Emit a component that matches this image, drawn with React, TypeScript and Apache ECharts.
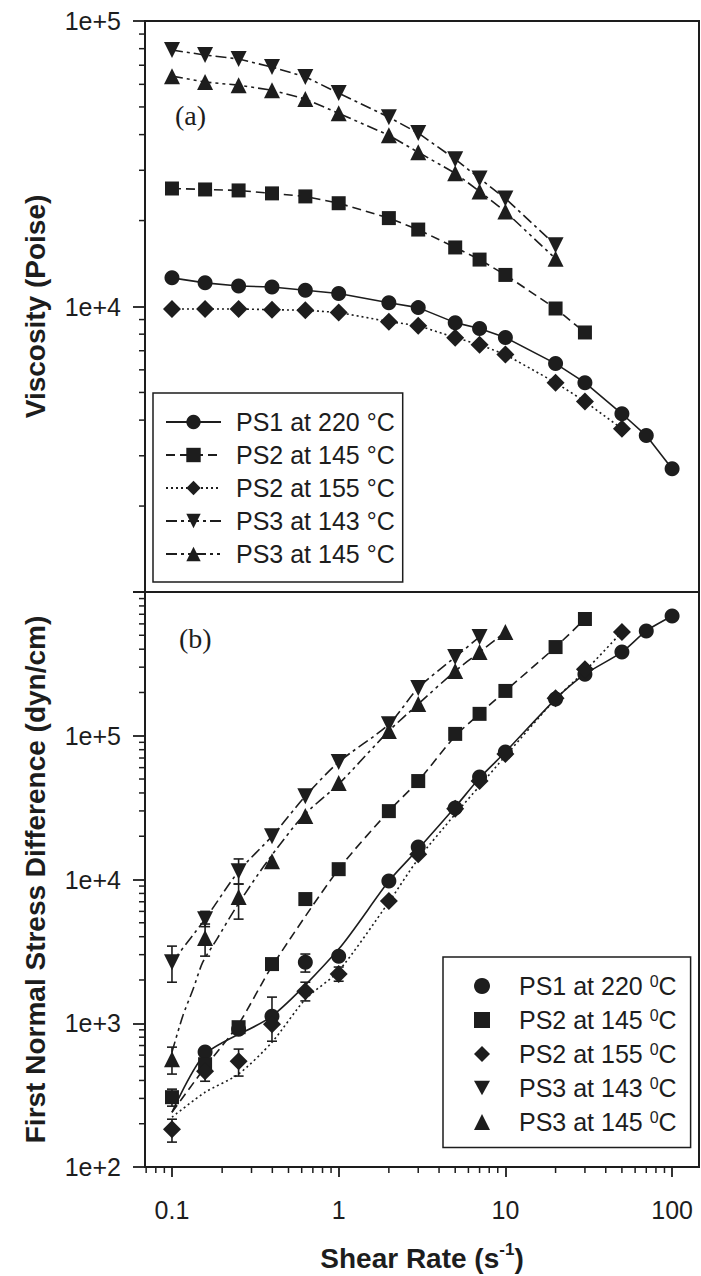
import React, { useEffect, useRef } from "react";
import * as echarts from "echarts";

// ---------------- data ----------------
const shearRates = [0.1, 0.158, 0.251, 0.398, 0.631, 1, 2, 3, 5, 7, 10, 20, 30, 50, 70, 100];

// (a) viscosity, Poise (series use the first n shear rates)
const viscPS1_220 = [12600, 12100, 11800, 11700, 11400, 11100, 10300, 9910, 8780, 8370, 7790, 6310, 5410, 4210, 3530, 2700];
const viscPS2_145 = [25900, 25700, 25500, 24900, 24300, 23000, 20400, 18600, 16100, 14600, 12900, 9840, 8110];
const viscPS2_155 = [9800, 9800, 9800, 9750, 9700, 9530, 8850, 8570, 7780, 7350, 6790, 5410, 4650, 3730];
const viscPS3_143 = [79100, 76000, 73600, 69000, 63700, 55900, 46000, 40500, 32800, 28100, 23900, 16400];
const viscPS3_145 = [64100, 61100, 59600, 57200, 53300, 47500, 39800, 34700, 29300, 25300, 21500, 14700];

// (b) first normal stress difference, dyn/cm
const n1PS1_220_x = [0.158, 0.251, 0.398, 0.631, 1, 2, 3, 5, 7, 10, 20, 30, 50, 70, 100];
const n1PS1_220 = [630, 910, 1120, 2660, 2930, 9750, 16800, 31400, 51600, 77100, 180000, 268000, 382000, 536000, 681000];
const n1PS2_145 = [306, 519, 939, 2580, 7310, 11800, 29900, 48400, 103000, 142000, 205000, 414000, 649000];
const n1PS2_155 = [183, 464, 545, 986, 1670, 2200, 7080, 15000, 31000, 48400, 74600, 182000, 290000, 527000];
const n1PS3_143 = [2660, 5300, 11400, 20000, 38000, 65600, 120000, 215000, 353000, 487000];
const n1PS3_145 = [562, 3910, 7550, 13400, 27600, 46900, 108000, 166000, 282000, 382000, 527000];

// error bars: [shear rate, low, high]
const errBars = [
  [0.1, 1930, 3440], [0.158, 4700, 6000], [0.251, 9300, 13900],
  [0.1, 443, 682], [0.158, 2930, 4900], [0.251, 5300, 9300],
  [0.1, 265, 348],
  [0.1, 149, 215], [0.158, 395, 562], [0.251, 429, 661], [0.398, 750, 1520], [0.631, 1430, 1930], [1, 1960, 2460],
  [0.631, 2270, 3030],
];

// fitted curves in (b)
const fitPS1_x = [0.1, 0.158, 0.398, 1, 2, 3, 5, 7, 10, 20, 30, 50, 70, 100];
const fitPS1_y = [240, 610, 1120, 3280, 9750, 16300, 31900, 50800, 77100, 180000, 268000, 382000, 536000, 681000];
const fitPS2a_x = [0.1, 0.158, 0.251, 0.398, 1, 2, 3, 5, 7, 10, 20, 30];
const fitPS2a_y = [240, 494, 986, 2490, 11800, 29900, 48400, 99500, 142000, 205000, 414000, 649000];
const fitPS2b_x = [0.1, 0.158, 0.251, 0.398, 0.631, 1, 2, 3, 5, 7, 10, 20, 30, 50];
const fitPS2b_y = [222, 331, 443, 738, 1470, 2310, 6970, 13900, 28500, 44700, 72300, 180000, 282000, 527000];
const fitPS3b_x = [0.1, 0.116, 0.134, 0.153, 0.186, 0.245, 0.37, 0.61, 1, 2, 3, 5, 7, 10];
const fitPS3b_y = [630, 1120, 1730, 2660, 3850, 6530, 13200, 27600, 46100, 108000, 166000, 282000, 382000, 527000];

// minor tick values
const minorX = [0.07, 0.08, 0.09, 0.2, 0.3, 0.4, 0.5, 0.6, 0.7, 0.8, 0.9, 2, 3, 4, 5, 6, 7, 8, 9, 20, 30, 40, 50, 60, 70, 80, 90];
const minorYTop = [2000, 3000, 4000, 5000, 6000, 7000, 8000, 9000, 20000, 30000, 40000, 50000, 60000, 70000, 80000, 90000];
const minorYBot = [200, 300, 400, 500, 600, 700, 800, 900, 2000, 3000, 4000, 5000, 6000, 7000, 8000, 9000,
  20000, 30000, 40000, 50000, 60000, 70000, 80000, 90000, 200000, 300000, 400000, 500000, 600000, 700000, 800000, 900000];

const topNames = ["PS1 at 220 °C", "PS2 at 145 °C", "PS2 at 155 °C", "PS3 at 143 °C", "PS3 at 145 °C"];
const botNames = ["PS1 at 220 ⁰C", "PS2 at 145 ⁰C", "PS2 at 155 ⁰C", "PS3 at 143 ⁰C", "PS3 at 145 ⁰C"];

// ---------------- styles ----------------
const FONT = '"Liberation Sans", Arial, sans-serif';
const INK = "#1d1d1d";
const X_MIN = 0.0689;
const X_MAX = 145;
const DOWN_TRI = "path://M0,0L10,0L5,9Z";

const symbols = [
  { symbol: "circle", size: 15 },
  { symbol: "rect", size: 14 },
  { symbol: "diamond", size: 18 },
  { symbol: DOWN_TRI, size: 16 },
  { symbol: "triangle", size: 16 },
];
const dashes: any[] = ["solid", [9, 5], [2, 3], [11, 4, 3, 4], [11, 4, 3, 4, 3, 4]];

const pairs = (xs: number[], ys: number[]) => ys.map((y, i) => [xs[i], y]);

const sciLabel = (lo: number, hi: number) => (v: number) =>
  v <= lo * 1.01 || v >= hi * 0.99 ? "" : `1e+${Math.round(Math.log10(v))}`;

function minorTickSeries(values: number[], axis: "x" | "y", gridIdx: number, yMin: number) {
  return {
    type: "custom",
    xAxisIndex: gridIdx,
    yAxisIndex: gridIdx,
    silent: true,
    clip: false,
    z: 5,
    data: values.map((v) => (axis === "x" ? [v, yMin] : [X_MIN, v])),
    encode: { x: 0, y: 1 },
    renderItem: (params: any, api: any) => {
      const p = api.coord([api.value(0), api.value(1)]);
      const shape =
        axis === "x"
          ? { x1: p[0], y1: p[1], x2: p[0], y2: p[1] + 6 }
          : { x1: p[0] - 6, y1: p[1], x2: p[0], y2: p[1] };
      return { type: "line", shape, style: { stroke: INK, lineWidth: 1.5 } };
    },
  };
}

export default function App() {
  const ref = useRef<HTMLDivElement>(null);

  useEffect(() => {
    if (!ref.current) return;
    const chart = echarts.init(ref.current, null, { renderer: "svg" });

    const topData = [viscPS1_220, viscPS2_145, viscPS2_155, viscPS3_143, viscPS3_145];
    const topSeries = topData.map((ys, i) => ({
      name: topNames[i],
      type: "line",
      xAxisIndex: 0,
      yAxisIndex: 0,
      data: pairs(shearRates, ys),
      symbol: symbols[i].symbol,
      symbolSize: symbols[i].size,
      itemStyle: { color: INK },
      lineStyle: { color: INK, width: 1.6, type: dashes[i] },
      z: 3,
    }));

    const botData = [
      pairs(n1PS1_220_x, n1PS1_220),
      pairs(shearRates, n1PS2_145),
      pairs(shearRates, n1PS2_155),
      pairs(shearRates, n1PS3_143),
      pairs(shearRates, n1PS3_145),
    ];
    const botScatter = botData.map((d, i) => ({
      name: botNames[i],
      type: "scatter",
      xAxisIndex: 1,
      yAxisIndex: 1,
      data: d,
      symbol: symbols[i].symbol,
      symbolSize: symbols[i].size,
      itemStyle: { color: INK, opacity: 1 },
      z: 4,
    }));

    const fits = [
      pairs(fitPS1_x, fitPS1_y),
      pairs(fitPS2a_x, fitPS2a_y),
      pairs(fitPS2b_x, fitPS2b_y),
      pairs(shearRates, n1PS3_143),
      pairs(fitPS3b_x, fitPS3b_y),
    ];
    const fitSeries = fits.map((d, i) => ({
      name: "fit" + i,
      type: "line",
      xAxisIndex: 1,
      yAxisIndex: 1,
      data: d,
      symbol: "none",
      smooth: 0.25,
      lineStyle: { color: INK, width: 1.6, type: dashes[i] },
      z: 2,
    }));

    const errSeries = {
      type: "custom",
      xAxisIndex: 1,
      yAxisIndex: 1,
      silent: true,
      z: 3,
      data: errBars,
      encode: { x: 0, y: [1, 2] },
      renderItem: (params: any, api: any) => {
        const x = api.value(0);
        const a = api.coord([x, api.value(1)]);
        const b = api.coord([x, api.value(2)]);
        const w = 5;
        const st = { stroke: INK, lineWidth: 1.6 };
        return {
          type: "group",
          children: [
            { type: "line", shape: { x1: a[0], y1: a[1], x2: b[0], y2: b[1] }, style: st },
            { type: "line", shape: { x1: a[0] - w, y1: a[1], x2: a[0] + w, y2: a[1] }, style: st },
            { type: "line", shape: { x1: b[0] - w, y1: b[1], x2: b[0] + w, y2: b[1] }, style: st },
          ],
        };
      },
    };

    const axisLine = { show: true, lineStyle: { color: INK, width: 2 } };
    const tickLabel = { fontFamily: FONT, fontSize: 25, color: INK };
    const nameStyle = { fontFamily: FONT, fontSize: 28, fontWeight: "bold", color: INK };

    chart.setOption({
      animation: false,
      backgroundColor: "#fff",
      grid: [
        { left: 145, right: 2, top: 21, height: 571, show: true, borderColor: INK, borderWidth: 2 },
        { left: 145, right: 2, top: 592, height: 576, show: true, borderColor: INK, borderWidth: 2 },
      ],
      xAxis: [
        {
          type: "log", gridIndex: 0, min: X_MIN, max: X_MAX,
          axisLine, axisTick: { show: false }, axisLabel: { show: false }, splitLine: { show: false },
        },
        {
          type: "log", gridIndex: 1, min: X_MIN, max: X_MAX,
          axisLine,
          axisTick: { show: true, inside: false, length: 10, lineStyle: { color: INK, width: 1.8 } },
          axisLabel: {
            ...tickLabel, margin: 30, showMinLabel: false, showMaxLabel: false,
            formatter: (v: number) => (v < 0.09 || v > 120 ? "" : String(Math.round(v * 1000) / 1000)),
          },
          splitLine: { show: false },
          name: "Shear Rate (s{sup|-1})",
          nameLocation: "middle",
          nameGap: 74,
          nameTextStyle: {
            ...nameStyle, lineHeight: 34,
            rich: { sup: { fontFamily: FONT, fontSize: 17, fontWeight: "bold", color: INK, verticalAlign: "top", lineHeight: 18 } },
          },
        },
      ],
      yAxis: [
        {
          type: "log", gridIndex: 0, min: 1000, max: 100000,
          axisLine,
          axisTick: { show: true, inside: false, length: 12, lineStyle: { color: INK, width: 1.8 } },
          axisLabel: { ...tickLabel, margin: 24, formatter: sciLabel(1000, 1e9) },
          splitLine: { show: false },
          name: "Viscosity (Poise)",
          nameLocation: "middle",
          nameGap: 96,
          nameTextStyle: nameStyle,
        },
        {
          type: "log", gridIndex: 1, min: 100, max: 1000000,
          axisLine,
          axisTick: { show: true, inside: false, length: 12, lineStyle: { color: INK, width: 1.8 } },
          axisLabel: { ...tickLabel, margin: 24, formatter: sciLabel(1, 1000000) },
          splitLine: { show: false },
          name: "First Normal Stress Difference (dyn/cm)",
          nameLocation: "middle",
          nameGap: 96,
          nameTextStyle: nameStyle,
        },
      ],
      legend: [
        {
          orient: "vertical", left: 153, top: 393,
          data: topNames,
          itemWidth: 55, itemHeight: 18, itemGap: 7,
          padding: [16, 8, 15, 12],
          borderColor: INK, borderWidth: 1.5,
          selectedMode: false,
          textStyle: { fontFamily: FONT, fontSize: 25, color: INK, lineHeight: 26, padding: [0, 0, 0, 10] },
        },
        {
          orient: "vertical", left: 443, top: 957,
          data: botNames,
          itemWidth: 16, itemHeight: 16, itemGap: 8.5,
          padding: [16, 14, 13, 31],
          borderColor: INK, borderWidth: 1.5,
          selectedMode: false,
          formatter: (name: string) => {
            const [a, b] = name.split("⁰");
            return `{t|${a}}{s|0}{t|${b}}`;
          },
          textStyle: {
            fontFamily: FONT, fontSize: 25, color: INK, padding: [0, 0, 0, 24],
            rich: {
              t: { fontFamily: FONT, fontSize: 25, color: INK, lineHeight: 26 },
              s: { fontFamily: FONT, fontSize: 16, color: INK, lineHeight: 16, verticalAlign: "top" },
            },
          },
        },
      ],
      graphic: [
        { type: "text", left: 175, top: 101, style: { text: "(a)", font: '28px "Liberation Serif", serif', fill: INK } },
        { type: "text", left: 179, top: 624, style: { text: "(b)", font: '28px "Liberation Serif", serif', fill: INK } },
      ],
      series: [
        ...topSeries,
        ...fitSeries,
        errSeries,
        ...botScatter,
        minorTickSeries(minorYTop, "y", 0, 1000),
        minorTickSeries(minorYBot, "y", 1, 100),
        minorTickSeries(minorX, "x", 1, 100),
      ],
    });

    return () => chart.dispose();
  }, []);

  return (
    <div
      ref={ref}
      style={{ position: "absolute", left: 0, top: 0, width: 701, height: 1276, background: "#fff" }}
    />
  );
}
